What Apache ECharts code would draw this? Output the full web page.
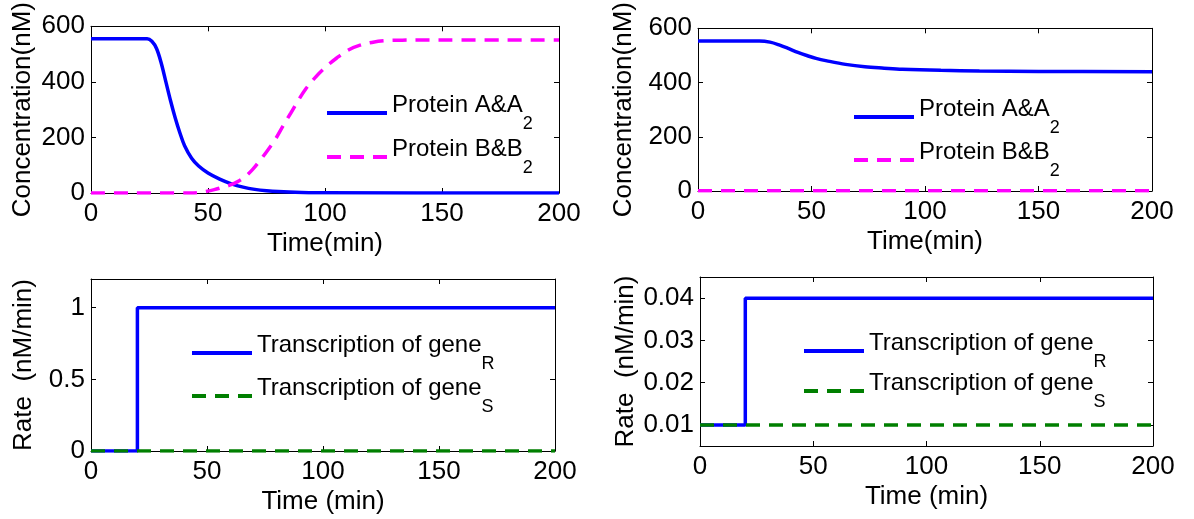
<!DOCTYPE html>
<html><head><meta charset="utf-8">
<script src="https://cdn.jsdelivr.net/npm/echarts@6/dist/echarts.min.js"></script>
<style>html,body{margin:0;padding:0;background:#fff}#c{width:1194px;height:519px}</style>
</head><body><div id="c"></div>
<script>
// ---- data ----
const timeTicks = [0, 50, 100, 150, 200];
const concTicks = [0, 200, 400, 600];
const rateTicks1 = [0, 0.5, 1];
const rateTicks2 = [0.01, 0.02, 0.03, 0.04];

// Panel 1 (top-left)
const p1TimeA = [0, 24, 26, 28, 30, 32, 34, 36, 38, 40, 43, 46, 50, 55, 60, 65, 70, 75, 80, 90, 100, 200];
const p1ProteinA = [555, 555, 546, 520, 468, 400, 332, 270, 216, 170, 125, 97, 72, 50, 33, 21, 13, 8, 5, 2, 0.5, 0];
const p1TimeB = [0, 43, 46.2, 49.5, 52.7, 56, 59.3, 62.5, 65.8, 69.1, 72.3, 75.6, 78.9, 82.1, 85.4, 88.7, 91.9, 95.2, 100, 105, 110, 115, 120, 125, 133, 141, 200];
const p1ProteinB = [0, 0, 2, 6, 12, 20, 28, 40, 58, 85, 118, 155, 195, 242, 288, 335, 376, 410, 451, 486, 515, 532, 542, 548, 550, 551, 551];

// Panel 2 (top-right)
const p2TimeA = [0, 27, 31.7, 36, 40, 44, 48.5, 52, 56.8, 65, 73.5, 82, 90, 107, 124, 150, 200];
const p2ProteinA = [553, 553, 549, 538, 525, 511, 498, 489, 480, 467, 458, 453, 449, 445, 443, 441, 440];
const p2TimeB = [0, 200];
const p2ProteinB = [1, 1];

// Panel 3 (bottom-left)
const p3TimeR = [0, 20, 20, 200];
const p3RateR = [0, 0, 1, 1];
const p3TimeS = [0, 200];
const p3RateS = [0, 0];

// Panel 4 (bottom-right)
const p4TimeR = [0, 20, 20, 200];
const p4RateR = [0.01, 0.01, 0.04, 0.04];
const p4TimeS = [0, 200];
const p4RateS = [0.01, 0.01];

// ---- chart ----
const FONT = 'Liberation Sans';
const FS = 26;
const LFS = 24;
const zip = (xs, ys) => xs.map((x, i) => [x, ys[i]]);

const grids = [
  {left: 91, top: 21, width: 468, height: 172},
  {left: 698, top: 21, width: 454, height: 170},
  {left: 91, top: 279, width: 464, height: 172},
  {left: 700, top: 277, width: 453, height: 169}
];

const lineAx = {show: true, onZero: false, lineStyle: {color: '#000', width: 1}};
const tickAx = {show: true, inside: true, length: 5, lineStyle: {color: '#000', width: 1}};
const lblAx = {color: '#000', fontSize: FS, fontFamily: FONT};

const xAxes = [], yAxes = [];
const xNames = ['Time(min)', 'Time(min)', 'Time (min)', 'Time (min)'];
const yNames = ['Concentration(nM)', 'Concentration(nM)', 'Rate  (nM/min)', 'Rate  (nM/min)'];
const yRanges = [[0, 600, concTicks], [0, 600, concTicks], [0, 1.2, rateTicks1], [0.005, 0.045, rateTicks2]];
const yNameGaps = [55, 61, 54, 61];

grids.forEach((g, i) => {
  const xBase = {gridIndex: i, type: 'value', min: 0, max: 200, splitLine: {show: false}, axisLine: lineAx};
  xAxes.push(Object.assign({}, xBase, {
    position: 'bottom',
    axisTick: Object.assign({}, tickAx, {customValues: timeTicks}),
    axisLabel: Object.assign({}, lblAx, {margin: 8, customValues: timeTicks}),
    name: xNames[i], nameLocation: 'middle', nameGap: 38,
    nameTextStyle: {color: '#000', fontSize: FS, fontFamily: FONT}
  }));
  xAxes.push(Object.assign({}, xBase, {
    position: 'top',
    axisTick: Object.assign({}, tickAx, {customValues: timeTicks}),
    axisLabel: {show: false}
  }));
  const [mn, mx, tk] = yRanges[i];
  const yBase = {gridIndex: i, type: 'value', min: mn, max: mx, splitLine: {show: false}, axisLine: lineAx};
  yAxes.push(Object.assign({}, yBase, {
    position: 'left',
    axisTick: Object.assign({}, tickAx, {customValues: tk}),
    axisLabel: Object.assign({}, lblAx, {margin: 6, customValues: tk}),
    name: yNames[i], nameLocation: 'middle', nameGap: yNameGaps[i],
    nameTextStyle: {color: '#000', fontSize: FS, fontFamily: FONT}
  }));
  yAxes.push(Object.assign({}, yBase, {
    position: 'right',
    axisTick: Object.assign({}, tickAx, {customValues: tk}),
    axisLabel: {show: false}
  }));
});

const BLUE = '#0000ff', MAG = '#ff00ff', GREEN = '#007f00';
const DASH = [14, 9];
function ser(name, i, data, color, dashed, smooth) {
  return {
    name, type: 'line', xAxisIndex: 2 * i, yAxisIndex: 2 * i, data,
    symbol: 'none', showSymbol: false, silent: true, animation: false,
    smooth: smooth ? 0.35 : false,
    lineStyle: {color, width: 3.5, type: dashed ? DASH : 'solid'},
    itemStyle: {color}
  };
}
const series = [
  ser('Protein A&A2', 0, zip(p1TimeA, p1ProteinA), BLUE, false, true),
  ser('Protein B&B2', 0, zip(p1TimeB, p1ProteinB), MAG, true, true),
  ser('Protein A&A2', 1, zip(p2TimeA, p2ProteinA), BLUE, false, true),
  ser('Protein B&B2', 1, zip(p2TimeB, p2ProteinB), MAG, true, false),
  ser('Transcription of geneR', 2, zip(p3TimeR, p3RateR), BLUE, false, false),
  ser('Transcription of geneS', 2, zip(p3TimeS, p3RateS), GREEN, true, false),
  ser('Transcription of geneR', 3, zip(p4TimeR, p4RateR), BLUE, false, false),
  ser('Transcription of geneS', 3, zip(p4TimeS, p4RateS), GREEN, true, false)
];

const legendText = {
  'Protein A&A2': '{m|Protein A&A}{sub|2}',
  'Protein B&B2': '{m|Protein B&B}{sub|2}',
  'Transcription of geneR': '{m|Transcription of gene}{sub|R}',
  'Transcription of geneS': '{m|Transcription of gene}{sub|S}'
};
function legend(left, top, gap, names) {
  return {
    left, top, orient: 'vertical', itemWidth: 60, itemHeight: 14, itemGap: gap,
    padding: 0, selectedMode: false, data: names,
    itemStyle: {opacity: 0},
    lineStyle: {width: 4},
    formatter: n => legendText[n],
    textStyle: {color: '#000', fontSize: LFS, fontFamily: FONT,
      rich: {
        m: {fontSize: LFS, fontFamily: FONT, color: '#000', lineHeight: 26, verticalAlign: 'top'},
        sub: {fontSize: 18, fontFamily: FONT, color: '#000', padding: [22, 0, 0, 0], verticalAlign: 'bottom'}
      }}
  };
}
const legends = [
  legend(325, 93, 4, ['Protein A&A2', 'Protein B&B2']),
  legend(852, 97, 3, ['Protein A&A2', 'Protein B&B2']),
  legend(190, 333, 3, ['Transcription of geneR', 'Transcription of geneS']),
  legend(802, 331, 0, ['Transcription of geneR', 'Transcription of geneS'])
];

const chart = echarts.init(document.getElementById('c'), null, {renderer: 'canvas'});
chart.setOption({
  backgroundColor: '#fff',
  animation: false,
  grid: grids,
  xAxis: xAxes,
  yAxis: yAxes,
  legend: legends,
  series
});
</script></body></html>
